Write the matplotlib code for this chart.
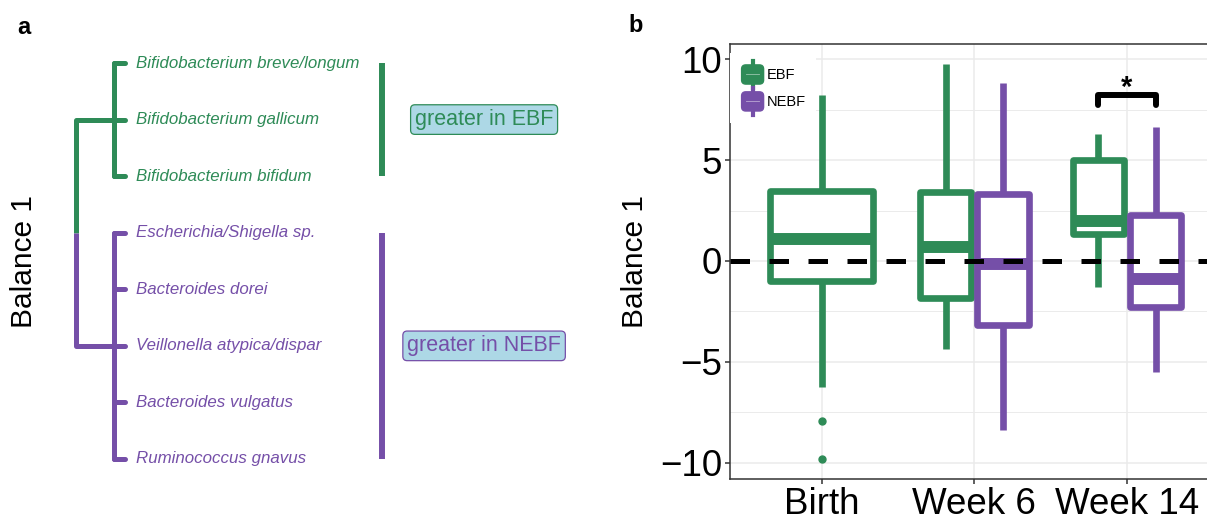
import matplotlib.pyplot as plt
import numpy as np
from matplotlib.patches import Patch, FancyBboxPatch
from matplotlib.lines import Line2D
from matplotlib.legend_handler import HandlerPatch

plt.rcParams['font.family'] = ['Liberation Sans', 'DejaVu Sans']

GREEN = '#2E8B57'
PURPLE = '#754FA8'
LABEL_FILL = '#ADD8E6'
colors = {'EBF': GREEN, 'NEBF': PURPLE}

# ---- panel a: balance tree ----
taxa = ['Bifidobacterium breve/longum', 'Bifidobacterium gallicum',
        'Bifidobacterium bifidum', 'Escherichia/Shigella sp.',
        'Bacteroides dorei', 'Veillonella atypica/dispar',
        'Bacteroides vulgatus', 'Ruminococcus gnavus']
taxa_group = ['EBF', 'EBF', 'EBF', 'NEBF', 'NEBF', 'NEBF', 'NEBF', 'NEBF']
group_names = ['EBF', 'NEBF']
group_text = ['greater in EBF', 'greater in NEBF']
root_depth = 0.0
clade_depth = 1.0
tip_depth = 1.3

# ---- panel b: balance over time ----
timepoints = ['Birth', 'Week 6', 'Week 14']
box_time = [0, 1, 1, 2, 2]
box_group = ['EBF', 'EBF', 'NEBF', 'EBF', 'NEBF']
q1 = [-1.0, -1.84, -3.18, 1.34, -2.27]
med = [1.10, 0.69, -0.15, 1.99, -0.89]
q3 = [3.45, 3.41, 3.33, 5.03, 2.28]
whislo = [-6.24, -4.38, -8.39, -1.27, -5.49]
whishi = [8.24, 9.76, 8.82, 6.30, 6.63]
fliers = [[-7.94, -9.84], [], [], [], []]
sig_time = 2
sig_y = 8.25
sig_tip = 0.5
sig_label = '*'

fig = plt.figure(figsize=(12.07, 5.16), dpi=100)
W, H = 1207, 516

# panel a axes: depth on x, leaf index on y
axa = fig.add_axes([0, 0, 600 / W, 1])
axa.axis('off')
px_depth = 37.7
px_leaf = 56.57
axa.set_xlim(-75.8 / px_depth, (600 - 75.8) / px_depth)
axa.set_ylim((H - 63) / px_leaf, -63 / px_leaf)

leaf_y = np.arange(len(taxa))
tree_lw = 3.6
clade_y = {}
for g in group_names:
    ys = leaf_y[[t == g for t in taxa_group]]
    c = colors[g]
    clade_y[g] = ys.mean()
    axa.plot([clade_depth, clade_depth], [ys.min(), ys.max()], color=c,
             lw=tree_lw, solid_capstyle='round')
    for y in ys:
        axa.plot([clade_depth, tip_depth], [y, y], color=c, lw=tree_lw,
                 solid_capstyle='round')
        axa.text(tip_depth + 0.3, y, taxa[y], color=c, style='italic',
                 fontsize=12.2, ha='left', va='center')
    # group bar and label
    axa.plot([8.12, 8.12], [ys.min(), ys.max()], color=c, lw=4.3,
             solid_capstyle='butt')
    axa.text(10.83, ys.mean(), group_text[group_names.index(g)], color=c,
             fontsize=15.5, ha='center', va='center',
             bbox=dict(boxstyle='round,pad=0.2,rounding_size=0.2',
                       fc=LABEL_FILL, ec=c, lw=0.9))

root_y = np.mean(list(clade_y.values()))
for g in group_names:
    c = colors[g]
    axa.plot([root_depth, root_depth], [root_y, clade_y[g]], color=c,
             lw=tree_lw, solid_capstyle='butt')
    axa.plot([root_depth, clade_depth], [clade_y[g], clade_y[g]], color=c,
             lw=tree_lw, solid_capstyle='round')

fig.text(24 / W, 1 - 262 / H, 'Balance 1', rotation=90, fontsize=21.5,
         ha='center', va='center')

# panel b axes
left_px, right_px = 730, 1218.6
top_px, bot_px = 44.3, 479.3
axb = fig.add_axes([left_px / W, 1 - bot_px / H, (right_px - left_px) / W,
                    (bot_px - top_px) / H])

dodge = 0.75
for i in range(len(box_time)):
    t = box_time[i]
    members = [j for j in range(len(box_time)) if box_time[j] == t]
    n = len(members)
    k = members.index(i)
    pos = t + 1 + (k - (n - 1) / 2) * dodge / n
    width = dodge / n * 0.9
    c = colors[box_group[i]]
    stats = [dict(med=med[i], q1=q1[i], q3=q3[i], whislo=whislo[i],
                  whishi=whishi[i], fliers=fliers[i])]
    axb.bxp(stats, positions=[pos], widths=[width], patch_artist=True,
            showcaps=False, manage_ticks=False,
            boxprops=dict(facecolor='white', edgecolor=c, linewidth=4.8,
                          joinstyle='round'),
            whiskerprops=dict(color=c, linewidth=4.8, solid_capstyle='butt'),
            medianprops=dict(color=c, linewidth=8.6, solid_capstyle='butt'),
            flierprops=dict(marker='o', markerfacecolor=c, markeredgecolor=c,
                            markersize=5))

axb.axhline(0, color='black', lw=3.6, dashes=(3.9, 3.9),
            dash_capstyle='butt', zorder=6)

# significance bracket
sx = [sig_time + 1 - dodge / 4, sig_time + 1 + dodge / 4]
axb.plot([sx[0], sx[0], sx[1], sx[1]],
         [sig_y - sig_tip, sig_y, sig_y, sig_y - sig_tip], color='black',
         lw=4.3, solid_joinstyle='round', solid_capstyle='round', zorder=6)
axb.text(np.mean(sx), sig_y - 0.35, sig_label, fontsize=21, fontweight='bold',
         ha='center', va='bottom')

axb.set_xlim(0.4, 3.6)
axb.set_ylim(-10.83, 10.75)
axb.set_xticks([1, 2, 3], timepoints)
axb.set_yticks([-10, -5, 0, 5, 10])
axb.set_yticks([-7.5, -2.5, 2.5, 7.5], minor=True)
axb.grid(which='major', color='#EBEBEB', lw=1.1)
axb.grid(which='minor', axis='y', color='#EBEBEB', lw=0.7)
axb.set_axisbelow(True)
axb.tick_params(which='major', length=3.5, width=1.1, color='#333333',
                labelsize=26.5, pad=2)
axb.tick_params(which='minor', length=0)
for s in axb.spines.values():
    s.set_color('#333333')
    s.set_linewidth(1.1)


class BoxKey(HandlerPatch):
    def create_artists(self, legend, orig_handle, xdescent, ydescent,
                       width, height, fontsize, trans):
        c = orig_handle.get_facecolor()
        x0, y0 = -xdescent, -ydescent
        whisk = Line2D([x0 + width / 2] * 2, [y0 - 2, y0 + height + 2],
                       color=c, lw=3, transform=trans)
        box = FancyBboxPatch((x0 + 1, y0 + 1), width - 2, height - 2,
                             boxstyle='round,pad=0,rounding_size=3',
                             fc=c, ec=c, lw=1, transform=trans)
        mid = Line2D([x0 + width * 0.25, x0 + width * 0.75],
                     [y0 + height / 2] * 2, color='white', lw=0.6,
                     alpha=0.5, transform=trans)
        return [whisk, box, mid]


handles = [Patch(facecolor=colors[g], label=g) for g in group_names]
leg = axb.legend(handles=handles, loc='upper left',
                 bbox_to_anchor=(0, 1 - 9 / (bot_px - top_px)),
                 borderaxespad=0, borderpad=0.7, fontsize=10.5,
                 handlelength=1.7, handleheight=1.94, handletextpad=0.1,
                 labelspacing=0.34, frameon=True, fancybox=False,
                 facecolor='white', edgecolor='none', framealpha=1,
                 handler_map={Patch: BoxKey()})

fig.text(24 / W, 1 - 27 / H, 'a', fontsize=17, fontweight='bold',
         ha='center', va='center')
fig.text(636 / W, 1 - 25 / H, 'b', fontsize=17, fontweight='bold',
         ha='center', va='center')
fig.text(635 / W, 1 - 262 / H, 'Balance 1', rotation=90, fontsize=21.5,
         ha='center', va='center')

fig.savefig('out.png', dpi=100)
